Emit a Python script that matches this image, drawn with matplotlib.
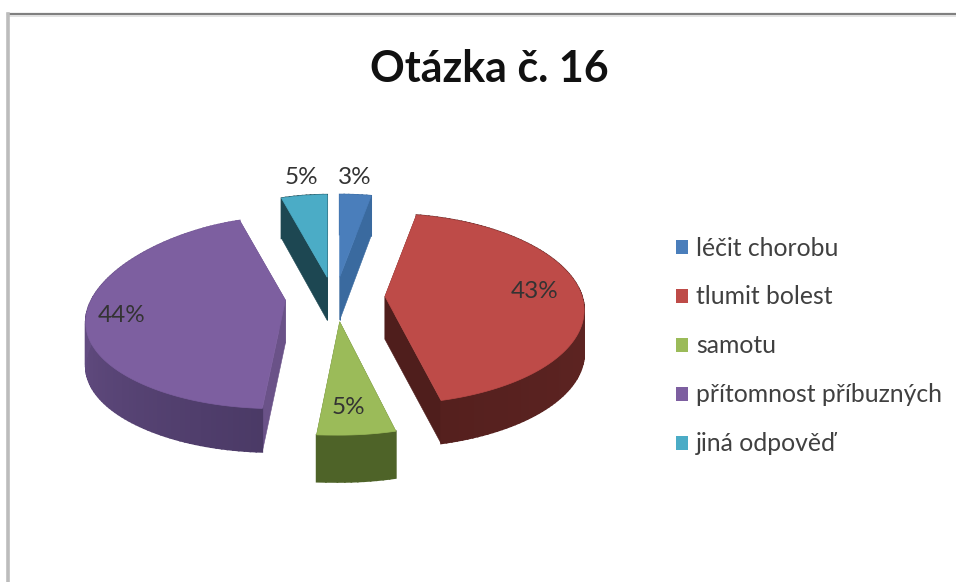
import numpy as np
import matplotlib
matplotlib.use("Agg")
import matplotlib.pyplot as plt
from matplotlib.patches import Polygon, Patch
from matplotlib.lines import Line2D
from matplotlib.colors import to_rgb

plt.rcParams['font.family'] = ['Lato', 'DejaVu Sans']

title = "Otázka č. 16"
categories = ["léčit chorobu", "tlumit bolest", "samotu", "přítomnost příbuzných", "jiná odpověď"]
values = [3, 43, 5, 44, 5]

top_colors = ["#4A7EBB", "#BE4B48", "#9BBB59", "#7D5FA0", "#4BACC6"]
legend_colors = ["#4A7EBB", "#BE4B48", "#9BBB59", "#7D5FA0", "#4BACC6"]
side_start = ["#3A6A9F", "#6A2A28", "#4E6328", "#4B3A66", "#1D4752"]
side_end = ["#3A6A9F", "#55201E", "#4E6328", "#7A5E9C", "#1D4752"]
cut_colors = ["#3A6A9F", "#4F1E1C", "#4E6328", "#6A5288", "#1D4752"]
label_xy = [(355, 177), (535, 292), (348, 407), (122, 315), (301, 177)]

CX, CY = 335, 297
RX_RIGHT, RX_LEFT, RY = 197, 194, 95.2
KX_RIGHT, KX_LEFT, KY = 0.15, 0.25, 0.133
EX, EY_BACK, EY_FRONT = 50, 20, 25
DEPTH, KD = 43, 0.07
NEAR_Y, NEAR_D = 0.002, 0.0036
SKEW = 8

fig = plt.figure(figsize=(9.56, 5.82), dpi=100)
ax = fig.add_axes([0, 0, 1, 1])
ax.set_xlim(0, 956)
ax.set_ylim(582, 0)
ax.axis("off")

# chart frame (only top and left edges are visible in the crop)
ax.add_line(Line2D([8, 956], [14, 14], color="#808080", lw=1.6))
ax.add_line(Line2D([8, 956], [15.7, 15.7], color="#dddddd", lw=1.2))
ax.add_line(Line2D([8, 8], [14, 582], color="#bcbcbc", lw=2.6))


def rim(theta, ax0, ay0):
    theta = np.asarray(theta)
    sin, cos = np.sin(theta), np.cos(theta)
    left = sin < 0
    kx = np.where(left, KX_LEFT, KX_RIGHT)
    rx = np.where(left, RX_LEFT, RX_RIGHT)
    near = 1 + NEAR_Y * max(0, ay0 - CY)
    gate = np.clip(-sin / 0.05, 0, 1)
    skew = SKEW * np.clip(-cos, 0, 1) ** 8 * gate
    return (ax0 + rx * sin * (1 - kx * cos) - skew,
            ay0 - RY * cos * (1 - KY * cos) * near)


def depth(theta, ay0):
    near = 1 + NEAR_D * max(0, ay0 - CY)
    return DEPTH * (1 - KD * np.clip(np.cos(theta), 0, 1)) * near


edges = np.deg2rad(np.concatenate([[0], np.cumsum(values)]) / sum(values) * 360)
for i, v in enumerate(values):
    t0, t1 = edges[i], edges[i + 1]
    mid = (t0 + t1) / 2
    ax0 = CX + EX * np.sin(mid)
    ay0 = CY - (EY_BACK if np.cos(mid) > 0 else EY_FRONT) * np.cos(mid)
    th = np.linspace(t0, t1, max(int((t1 - t0) * 40), 8))
    xs, ys = rim(th, ax0, ay0)
    ds = depth(th, ay0)
    d_apex = DEPTH
    # cut faces
    for ex, ey, dd in [(xs[0], ys[0], ds[0]), (xs[-1], ys[-1], ds[-1])]:
        ax.add_patch(Polygon([(ax0, ay0), (ex, ey), (ex, ey + dd), (ax0, ay0 + d_apex)],
                             closed=True, fc=cut_colors[i], ec=cut_colors[i], lw=0.4, zorder=2 + i))
    # outer wall, shaded along the arc
    c0, c1 = np.array(to_rgb(side_start[i])), np.array(to_rgb(side_end[i]))
    for j in range(len(th) - 1):
        c = c0 + (c1 - c0) * j / (len(th) - 2)
        ax.add_patch(Polygon([(xs[j], ys[j]), (xs[j + 1], ys[j + 1]),
                              (xs[j + 1], ys[j + 1] + ds[j + 1]), (xs[j], ys[j] + ds[j])],
                             closed=True, fc=c, ec=c, lw=1.2, zorder=2 + i))
    # top face
    ax.add_patch(Polygon(np.vstack([[ax0, ay0], np.column_stack([xs, ys])]),
                         closed=True, fc=top_colors[i], ec=top_colors[i], lw=0.5, zorder=2.5 + i))
    ax.text(label_xy[i][0], label_xy[i][1], f"{v}%", ha="center", va="center",
            fontsize=17.5, color="#333333", zorder=20)

ax.text(489, 69, title, ha="center", va="center", fontsize=31, fontweight="bold", color="#111111")

handles = [Patch(fc=c, ec="none") for c in legend_colors]
leg = ax.legend(handles, categories, loc="upper left", bbox_to_anchor=(676 / 956, 1 - 236.5 / 582),
                bbox_transform=fig.transFigure, frameon=False, fontsize=17.8,
                handlelength=0.5, handleheight=0.5, handletextpad=0.32,
                labelspacing=1.05, labelcolor="#404040", borderpad=0, borderaxespad=0)

fig.savefig("out.png", dpi=100)
